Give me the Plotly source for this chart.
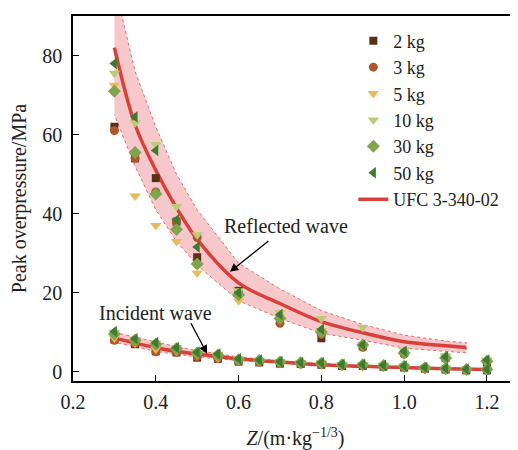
import plotly.graph_objects as go

# ---------------- data ----------------
refl_x = [0.30, 0.35, 0.40, 0.45, 0.50, 0.60, 0.70, 0.80, 0.90, 1.00, 1.10, 1.20]
inc_x = [0.30, 0.35, 0.40, 0.45, 0.50, 0.55, 0.60, 0.65, 0.70, 0.75,
         0.80, 0.85, 0.90, 0.95, 1.00, 1.05, 1.10, 1.15, 1.20]

series_names = ["2 kg", "3 kg", "5 kg", "10 kg", "30 kg", "50 kg"]

refl_2kg = [62.0, 54.0, 49.0, 38.0, 29.0, 20.5, 13.0, 8.5, 6.5, 4.8, 3.6, 2.4]
refl_3kg = [61.0, 54.0, 45.5, 38.0, 34.0, 19.5, 12.3, 9.5, 6.2, 4.5, 3.3, 2.5]
refl_5kg = [72.5, 44.5, 37.0, 33.0, 25.0, 18.0, 14.0, 10.5, 7.0, 5.4, 3.8, 2.8]
refl_10kg = [75.5, 63.0, 57.5, 41.8, 34.7, 20.5, 15.0, 13.5, 11.2, 5.6, 4.0, 3.0]
refl_30kg = [71.0, 55.5, 45.0, 36.0, 27.3, 19.5, 13.5, 10.0, 6.8, 4.8, 3.5, 2.7]
refl_50kg = [78.0, 64.5, 56.0, 38.5, 31.6, 20.0, 14.5, 10.8, 6.8, 5.2, 3.8, 3.0]

inc_2kg = [8.2, 7.0, 5.2, 4.9, 3.6, 3.3, 2.6, 2.4, 2.1, 2.0, 1.8, 1.5, 1.5, 1.3, 1.1, 0.8, 0.6, 0.4, 0.4]
inc_3kg = [8.0, 7.2, 5.1, 5.0, 3.9, 3.4, 2.7, 2.5, 2.2, 2.0, 1.9, 1.6, 1.6, 1.4, 1.2, 0.8, 0.7, 0.5, 0.5]
inc_5kg = [8.6, 7.4, 5.8, 5.3, 4.3, 3.6, 2.9, 2.6, 2.3, 2.1, 2.0, 1.7, 1.7, 1.5, 1.3, 0.9, 0.7, 0.5, 0.5]
inc_10kg = [10.0, 8.2, 7.3, 6.2, 5.0, 4.4, 3.3, 3.0, 2.6, 2.4, 2.3, 1.9, 1.9, 1.7, 1.5, 1.1, 0.9, 0.7, 0.7]
inc_30kg = [9.6, 8.0, 7.0, 5.9, 4.8, 4.3, 3.1, 2.9, 2.5, 2.3, 2.2, 1.8, 1.8, 1.6, 1.4, 1.0, 0.8, 0.6, 0.6]
inc_50kg = [10.2, 8.4, 7.4, 6.1, 5.0, 4.5, 3.3, 3.0, 2.6, 2.4, 2.3, 1.9, 1.9, 1.7, 1.5, 1.1, 0.9, 0.7, 0.7]

ufc_refl_x = [0.30, 0.35, 0.40, 0.45, 0.50, 0.60, 0.70, 0.80, 0.90, 1.00, 1.10, 1.15]
ufc_refl = [82.0, 62.5, 51.0, 41.5, 33.5, 22.5, 17.3, 12.7, 9.9, 7.6, 6.6, 6.2]
refl_band_upper = [98.0, 76.0, 62.0, 50.0, 41.0, 27.5, 21.0, 15.5, 12.0, 9.3, 7.8, 7.4]
refl_band_lower = [65.0, 52.0, 41.0, 33.0, 27.0, 18.0, 13.5, 9.8, 8.0, 6.0, 5.2, 4.8]

ufc_inc_x = [0.30, 0.35, 0.40, 0.45, 0.50, 0.55, 0.60, 0.70, 0.80, 0.90, 1.00, 1.10, 1.20]
ufc_inc = [8.6, 7.3, 6.1, 5.2, 4.5, 3.9, 3.3, 2.5, 1.8, 1.4, 1.1, 0.8, 0.6]
inc_band_upper = [10.0, 8.8, 7.5, 6.4, 5.4, 4.6, 3.8, 2.8, 2.1, 1.6, 1.3, 1.0, 0.8]
inc_band_lower = [7.5, 6.3, 5.2, 4.4, 3.8, 3.3, 2.9, 2.2, 1.6, 1.2, 0.9, 0.7, 0.5]

x_ticks = [0.2, 0.4, 0.6, 0.8, 1.0, 1.2]
x_tick_labels = ["0.2", "0.4", "0.6", "0.8", "1.0", "1.2"]
y_ticks = [0, 20, 40, 60, 80]

# ---------------- styles ----------------
FONT = "Liberation Serif, Times New Roman, serif"
colors = ["#5a3118", "#b3552a", "#e6bd5c", "#bccb76", "#7fa44b", "#3e7a30"]
symbols = ["square", "circle", "triangle-down", "triangle-down", "diamond", "triangle-left"]
sizes = [8, 9, 10, 10, 10, 10]
RED = "#d9403a"

refl_all = [refl_2kg, refl_3kg, refl_5kg, refl_10kg, refl_30kg, refl_50kg]
inc_all = [inc_2kg, inc_3kg, inc_5kg, inc_10kg, inc_30kg, inc_50kg]

fig = go.Figure()

# bands
for bx, up, lo in [(ufc_refl_x, refl_band_upper, refl_band_lower),
                   (ufc_inc_x, inc_band_upper, inc_band_lower)]:
    fig.add_trace(go.Scatter(
        x=list(bx) + list(bx)[::-1], y=list(up) + list(lo)[::-1],
        fill="toself", fillcolor="rgba(228,95,105,0.34)",
        line=dict(color="rgba(220,60,60,0.9)", width=0.8, dash="dot"),
        mode="lines", showlegend=False, hoverinfo="skip"))

# lines
fig.add_trace(go.Scatter(x=ufc_refl_x, y=ufc_refl, mode="lines",
                         line=dict(color=RED, width=3.5, shape="spline"),
                         showlegend=False))
fig.add_trace(go.Scatter(x=ufc_inc_x, y=ufc_inc, mode="lines",
                         line=dict(color=RED, width=3.5, shape="spline"),
                         showlegend=False))

# markers
for name, c, s, sz, r, i in zip(series_names, colors, symbols, sizes, refl_all, inc_all):
    fig.add_trace(go.Scatter(
        x=refl_x + inc_x, y=r + i, mode="markers", name=name,
        marker=dict(color=c, symbol=s, size=sz, line=dict(width=0))))

# legend entry for UFC line
fig.add_trace(go.Scatter(x=[None], y=[None], mode="lines", name="UFC 3-340-02",
                         line=dict(color=RED, width=3.5)))

fig.add_annotation(x=0.579, y=25.3, ax=40, ay=-32, text="", showarrow=True,
                   arrowhead=2, arrowsize=1.3, arrowwidth=1.3, arrowcolor="black")
fig.add_annotation(x=0.524, y=4.6, ax=-17, ay=-32, text="", showarrow=True,
                   arrowhead=2, arrowsize=1.3, arrowwidth=1.3, arrowcolor="black")
fig.add_annotation(x=0.7135, y=37.0, text="Reflected wave", showarrow=False,
                   font=dict(family=FONT, size=20, color="#222"))
fig.add_annotation(x=0.399, y=14.9, text="Incident wave", showarrow=False,
                   font=dict(family=FONT, size=20, color="#222"))

fig.update_layout(
    width=510, height=442,
    margin=dict(l=65, r=0, t=8, b=69),
    paper_bgcolor="white", plot_bgcolor="white",
    font=dict(family=FONT, size=20, color="#222"),
    legend=dict(x=0.63, y=0.982, xanchor="left", yanchor="top",
                bgcolor="rgba(0,0,0,0)", font=dict(family=FONT, size=18),
                tracegroupgap=0),
    xaxis=dict(range=[0.2, 1.275], tickvals=x_ticks, ticktext=x_tick_labels,
               ticks="inside", ticklen=6, tickwidth=1.2, tickcolor="black",
               showline=True, linecolor="black", linewidth=1.5, mirror=True,
               showgrid=False, zeroline=False, ticklabelstandoff=2,
               title=dict(text="<i>Z</i>/(m·kg<sup>−1/3</sup>)", standoff=22,
                          font=dict(family=FONT, size=20))),
    yaxis=dict(range=[-2.3, 90], tickvals=y_ticks,
               ticks="inside", ticklen=6, tickwidth=1.2, tickcolor="black",
               showline=True, linecolor="black", linewidth=1.5,
               showgrid=False, zeroline=False, ticklabelstandoff=5,
               title=dict(text="Peak overpressure/MPa", standoff=12,
                          font=dict(family=FONT, size=20))),
)

fig.write_html("out.html")
